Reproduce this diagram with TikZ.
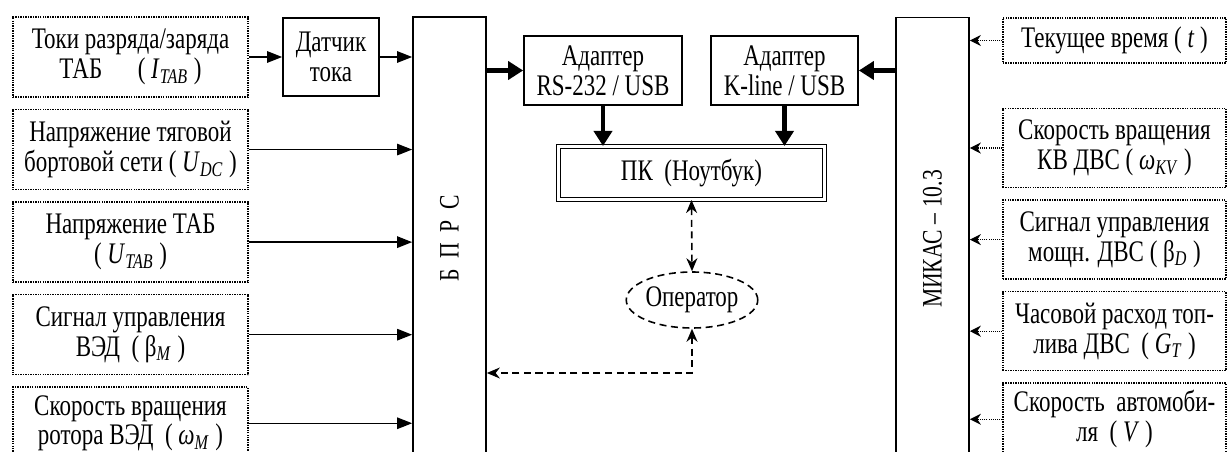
\documentclass[tikz,border=0pt]{standalone}
\usepackage{fontspec}
\setmainfont{Liberation Serif}[FakeStretch=0.77]
\usepackage{graphicx}
\usepackage{tikz}
\usetikzlibrary{%
  shapes.geometric,
  arrows.meta,
  positioning}
\newcommand{\sgn}[2]{\textit{#1}\textsubscript{\textit{#2}}}
\tikzset{
  %% Dotted signal boxes
  sigbox/.style={
    rectangle, draw=black, line width=0.9pt,
    dash pattern=on 0.8pt off 0.6pt,
    minimum width=4.70cm, minimum height=1.60cm,
    align=center, inner sep=1pt,
    font=\fontsize{17}{17}\selectfont},
  rsigbox/.style={sigbox, minimum width=4.46cm, minimum height=1.58cm},
  %% Solid device boxes
  devbox/.style={
    rectangle, draw=black, line width=1pt,
    align=center, inner sep=1pt,
    font=\fontsize{17}{17}\selectfont},
  %% Tall unit blocks
  unitbox/.style={
    rectangle, draw=black, line width=1pt,
    minimum width=1.46cm, minimum height=8.86cm,
    inner sep=0pt, font=\fontsize{16}{16}\selectfont},
  %% Arrows
  arrow/.style={-{Triangle[length=0.30cm,width=0.23cm]}, line width=0.75pt},
  barrow/.style={-{Triangle[length=0.30cm,width=0.36cm]}, line width=2.4pt},
  darrow/.style={{Stealth[length=0.26cm,width=0.22cm]}-{Stealth[length=0.26cm,width=0.22cm]},
    dash pattern=on 4pt off 2.6pt, line width=0.9pt},
  parrow/.style={-{Stealth[length=0.22cm,width=0.22cm]}, line width=0.7pt,
    dash pattern=on 0.6pt off 0.6pt},
}
\begin{document}
\begin{tikzpicture}[x=0.02cm, y=-0.02cm, node distance=0.22cm]
  \useasboundingbox (0,0) rectangle (1228,452);
  \clip (0,0) rectangle (1228,452);

  %% Left column of signals
  \node[sigbox] (itab) at (130.5,57)
        {Токи разряда/заряда\\ ТАБ \quad( \sgn{I}{TAB} )};
  \node[sigbox, below=of itab] (udc)
        {Напряжение тяговой\\ бортовой сети ( \sgn{U}{DC} )};
  \node[sigbox, below=of udc] (utab)
        {Напряжение ТАБ\\ ( \sgn{U}{TAB} )};
  \node[sigbox, below=of utab] (bm)
        {Сигнал управления\\ ВЭД \ ( β\textsubscript{\textit{M}} )};
  \node[sigbox, minimum height=1.44cm, below=of bm] (wm)
        {Скорость вращения\\ ротора ВЭД \ ( \sgn{ω}{M} )};

  \node[devbox, minimum width=1.92cm, minimum height=1.56cm] (dt) at (331,57)
        {Датчик\\ тока};

  %% Unit blocks
  \node[unitbox] (bprs) at (449.5,238.5)
        {\rotatebox{90}{Б\ \ П\ \ Р\ \ С}};
  \node[unitbox] (mikas) at (932.5,239)
        {\rotatebox{90}{МИКАС – 10.3}};

  %% Adapters and PC
  \node[devbox, minimum width=3.16cm, minimum height=1.38cm] (rs) at (603,70.5)
        {Адаптер\\ RS-232 / USB};
  \node[devbox, minimum width=2.94cm, minimum height=1.38cm] (kl) at (784.5,70.5)
        {Адаптер\\ K-line / USB};
  \node[devbox, double, double distance=1.6pt, line width=0.6pt,
        minimum width=5.32cm, minimum height=1.06cm] (pc) at (691.5,173)
        {ПК \ (Ноутбук)};
  \node[ellipse, draw, dash pattern=on 4pt off 2.6pt, line width=0.9pt,
        minimum width=2.6cm, minimum height=1.12cm,
        inner sep=0pt, font=\fontsize{17}{17}\selectfont] (op) at (692,300)
        {Оператор};

  %% Right column of signals
  \node[rsigbox, minimum height=0.90cm] (tt) at (1114.5,40.5)
        {Текущее время ( \textit{t} )};
  \node[rsigbox, below=0.88cm of tt] (wkv)
        {Скорость вращения\\ КВ ДВС ( \sgn{ω}{KV} )};
  \node[rsigbox, below=of wkv] (bd)
        {Сигнал управления\\ мощн. ДВС ( β\textsubscript{\textit{D}} )};
  \node[rsigbox, below=of bd] (gt)
        {Часовой расход топ-\\ лива ДВС \ ( \sgn{G}{T} )};
  \node[rsigbox, minimum height=1.44cm, below=of gt] (vv)
        {Скорость \ автомоби-\\ ля \ ( \textit{V} )};

  \draw[arrow] (itab) -- (dt);
  \draw[arrow] (dt.east) -- (dt.east -| bprs.west);
  \foreach \n in {udc,utab,bm,wm}
    \draw[arrow] (\n.east) -- (\n.east -| bprs.west);

  \draw[barrow] (bprs.east |- rs) -- (rs.west);
  \draw[barrow] (mikas.west |- kl) -- (kl.east);
  \draw[barrow] (rs.south) -- (rs.south |- pc.north);
  \draw[barrow] (kl.south) -- (kl.south |- pc.north);

  %% Operator links
  \coordinate (turn) at (692,373);
  \draw[darrow] (pc.south) -- (op.north);
  \draw[darrow] (op.south) -- (turn) -- (turn -| bprs.east);

  \foreach \n in {tt,wkv,bd,gt,vv}
    \draw[parrow] (\n.west) -- (\n.west -| mikas.east);
\end{tikzpicture}
\end{document}
